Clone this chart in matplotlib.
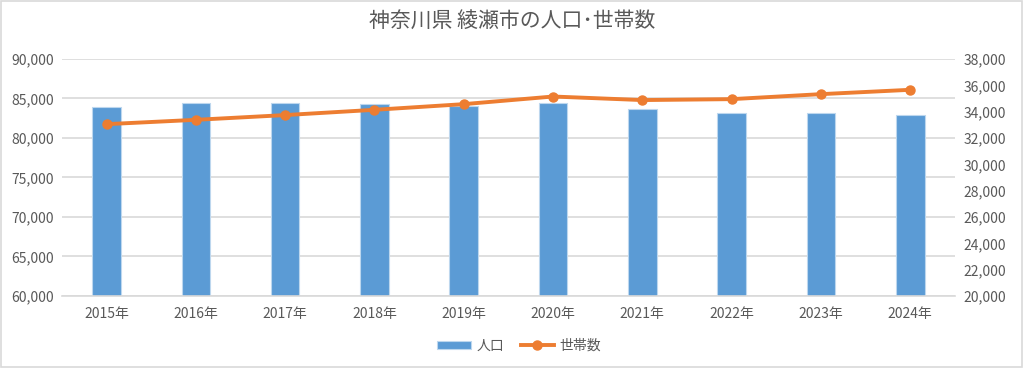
import matplotlib
matplotlib.use("Agg")
import matplotlib.pyplot as plt
from matplotlib.ticker import FuncFormatter
from matplotlib.patches import Rectangle

plt.rcParams['font.family'] = ['Noto Sans CJK JP', 'DejaVu Sans']

years = ["2015年", "2016年", "2017年", "2018年", "2019年",
         "2020年", "2021年", "2022年", "2023年", "2024年"]
population = [83930, 84440, 84370, 84240, 84110,
              84440, 83680, 83220, 83220, 82970]
households = [33050, 33380, 33740, 34140, 34570,
              35150, 34880, 34950, 35330, 35660]

bar_color = "#5B9BD5"
line_color = "#ED7D31"
text_color = "#595959"
grid_color = "#D9D9D9"

fig = plt.figure(figsize=(10.24, 3.68), dpi=100)
ax = fig.add_axes([0.0605, 0.1957, 0.872, 0.644])
ax2 = ax.twinx()

x = range(len(years))
ax.bar(x, population, width=0.32, color=bar_color, edgecolor="#BDD7EE",
       linewidth=0.8, label="人口", zorder=2)
ax2.plot(x, households, color=line_color, linewidth=2.8, marker="o",
         markersize=6.5, label="世帯数", zorder=3)

ax.set_xlim(-0.5, len(years) - 0.5)
ax.set_ylim(60000, 90000)
ax.set_yticks(range(60000, 90001, 5000))
ax2.set_ylim(20000, 38000)
ax2.set_yticks(range(20000, 38001, 2000))

fmt = FuncFormatter(lambda v, p: f"{int(v):,}")
ax.yaxis.set_major_formatter(fmt)
ax2.yaxis.set_major_formatter(fmt)

ax.set_xticks(list(x))
ax.set_xticklabels(years)

ax.grid(axis="y", color=grid_color, linewidth=1.2, zorder=0)
ax.set_axisbelow(True)

for a in (ax, ax2):
    for s in a.spines.values():
        s.set_visible(False)
    a.tick_params(length=0, colors=text_color, labelsize=10)
ax.spines["bottom"].set_visible(True)
ax.spines["bottom"].set_color(grid_color)
ax.spines["bottom"].set_linewidth(1.2)
ax.tick_params(axis="x", pad=8)
ax.tick_params(axis="y", pad=6)
ax2.tick_params(axis="y", pad=6)

fig.text(0.5, 0.94, "神奈川県 綾瀬市の人口･世帯数", ha="center", va="center",
         fontsize=15, color=text_color)

h1, l1 = ax.get_legend_handles_labels()
h2, l2 = ax2.get_legend_handles_labels()
fig.legend(h1 + h2, l1 + l2, loc="center", bbox_to_anchor=(0.507, 0.06),
           ncol=2, frameon=False, fontsize=10, labelcolor=text_color,
           handlelength=2.4, handleheight=0.6, columnspacing=1.2, handletextpad=0.4)

fig.patches.append(Rectangle((0.001, 0.002), 0.997, 0.995, transform=fig.transFigure,
                             fill=False, edgecolor=grid_color, linewidth=1.2))

fig.savefig("out.png", dpi=100)
